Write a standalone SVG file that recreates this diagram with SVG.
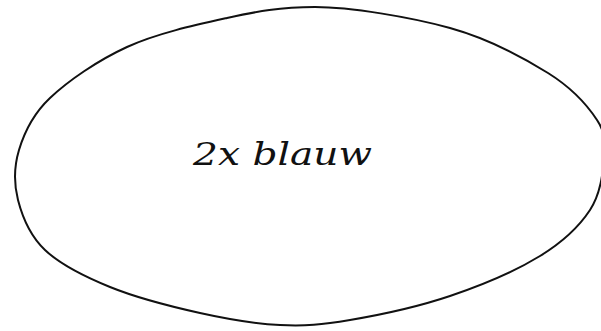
<svg xmlns="http://www.w3.org/2000/svg" width="601" height="331" viewBox="0 0 601 331">
<style>
.outline{fill:none;stroke:#111;stroke-width:2;stroke-linejoin:round}
.lbl{font-family:"DejaVu Serif","Liberation Serif",serif;font-style:italic;font-size:32px;fill:#111}
</style>
<rect width="601" height="331" fill="#fff"/>
<g id="node-blauw">
<path class="outline" d="M315,7 C350,7 410.3,17 450,28 C489.7,39 523.5,57.7 548,73 C572.5,88.3 587.7,105.8 597,120 C606.3,134.2 605.2,143 604,158 C602.8,173 600.7,193.7 590,210 C579.3,226.3 563.3,241.7 540,256 C516.7,270.3 481.7,285.3 450,296 C418.3,306.7 378.3,315.2 350,320 C321.7,324.8 305,326.2 280,325 C255,323.8 228.3,319.3 200,313 C171.7,306.7 135.8,297.5 110,287 C84.2,276.5 60.3,264.5 45,250 C29.7,235.5 22.3,216.7 18,200 C13.7,183.3 14,166.7 19,150 C24,133.3 32,115 50,98 C68,81 97.2,60.7 127,47 C156.8,33.3 196.5,24.7 227,18 C257.5,11.3 280,7 315,7 Z"/>
<text class="lbl" x="193" y="165" textLength="179" lengthAdjust="spacingAndGlyphs">2x blauw</text>
</g>
</svg>
